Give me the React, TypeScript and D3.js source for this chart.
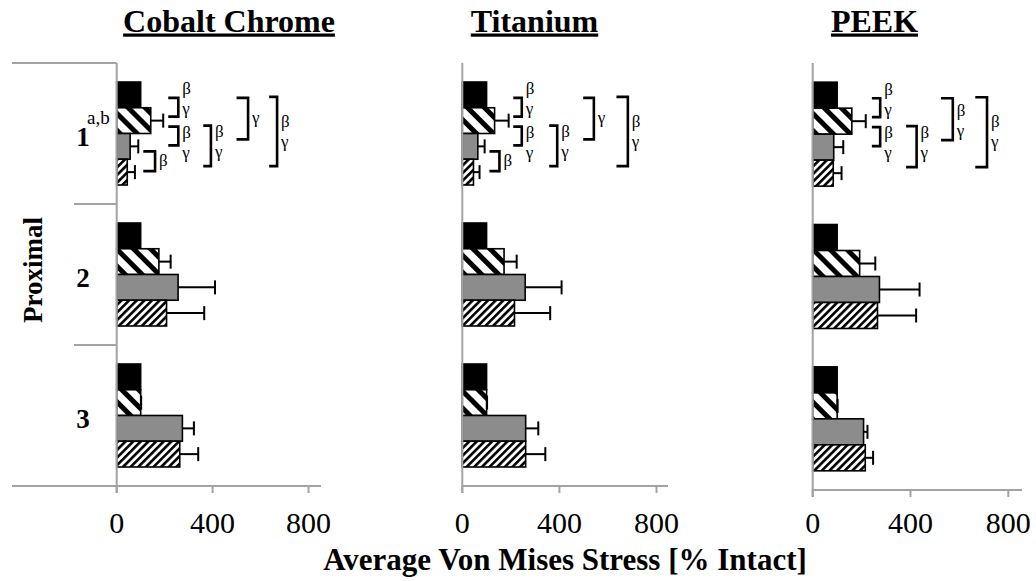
import React from 'react';
import * as d3 from 'd3';

// ---------- data ----------
const materials = ['Cobalt Chrome', 'Titanium', 'PEEK'];
const levels = ['1', '2', '3'];
const seriesNames = ['Intact', 'Construct A', 'Construct B', 'Construct C'];
const xTicks = [0, 400, 800];
const axisTitle = 'Average Von Mises Stress [% Intact]';
const regionLabel = 'Proximal';
const level1Note = 'a,b';

// values per level (rows) per series (columns)
const cocrValues = [
  [100, 142, 56, 44],
  [100, 176, 256, 208],
  [100, 100, 274, 263],
];
const cocrErrors = [
  [0, 52, 34, 32],
  [0, 49, 154, 157],
  [0, 2, 48, 77],
];
const tiValues = [
  [100, 133, 64, 46],
  [100, 172, 259, 215],
  [100, 100, 261, 261],
];
const tiErrors = [
  [0, 58, 28, 25],
  [0, 52, 150, 147],
  [0, 2, 52, 81],
];
const peekValues = [
  [100, 160, 86, 84],
  [100, 192, 273, 265],
  [100, 100, 208, 215],
];
const peekErrors = [
  [0, 57, 39, 34],
  [0, 64, 164, 158],
  [0, 2, 16, 32],
];

// significance brackets at level 1: series pair, x extent (data units), labels
const cocrBrackets = [
  { pair: [0, 1], x: [215, 257], text: ['β', 'γ'] },
  { pair: [1, 2], x: [215, 257], text: ['β', 'γ'] },
  { pair: [2, 3], x: [111, 160], text: ['β'] },
  { pair: [1, 3], x: [361, 393], text: ['β', 'γ'] },
  { pair: [0, 2], x: [500, 548], text: ['γ'] },
  { pair: [0, 3], x: [636, 669], text: ['β', 'γ'] },
];
const tiBrackets = [
  { pair: [0, 1], x: [210, 245], text: ['β', 'γ'] },
  { pair: [1, 2], x: [210, 245], text: ['β', 'γ'] },
  { pair: [2, 3], x: [112, 153], text: ['β'] },
  { pair: [1, 3], x: [358, 391], text: ['β', 'γ'] },
  { pair: [0, 2], x: [498, 542], text: ['γ'] },
  { pair: [0, 3], x: [635, 682], text: ['β', 'γ'] },
];
const peekBrackets = [
  { pair: [0, 1], x: [242, 276], text: ['β', 'γ'] },
  { pair: [1, 2], x: [242, 276], text: ['β', 'γ'] },
  { pair: [1, 3], x: [382, 425], text: ['β', 'γ'] },
  { pair: [0, 2], x: [525, 573], text: ['β', 'γ'] },
  { pair: [0, 3], x: [665, 713], text: ['β', 'γ'] },
];

const panelData = [
  { name: materials[0], values: cocrValues, errors: cocrErrors, brackets: cocrBrackets },
  { name: materials[1], values: tiValues, errors: tiErrors, brackets: tiBrackets },
  { name: materials[2], values: peekValues, errors: peekErrors, brackets: peekBrackets },
];

// ---------- layout ----------
const W = 1036;
const H = 581;
const panelLayout = [
  { x0: 116.7, x800: 308.5, top: 63, bottom: 486, lineEnd: 321, titleX: 229 },
  { x0: 462.3, x800: 656.5, top: 63, bottom: 486, lineEnd: 668, titleX: 534.5 },
  { x0: 812.7, x800: 1008.3, top: 63, bottom: 490, lineEnd: 1022, titleX: 874.5 },
];
const AXIS_GRAY = '#a3a3a3';
const FONT = '"Liberation Serif", "Times New Roman", Times, serif';
const seriesFill = ['#000000', 'url(#hatchWide)', '#8c8c8c', 'url(#hatchFine)'];

// bracket vertical insets (px) relative to bar centers, and label baseline offsets
const bracketInsets: Record<string, [number, number]> = {
  '0-1': [3, -4],
  '1-2': [6, -1],
  '2-3': [5, -1],
  '1-3': [5, -6],
  '0-2': [3, -7],
  '0-3': [2, -6],
};
const labelOffsets: Record<string, number[]> = {
  '0-1': [-13, 7],
  '1-2': [1.5, 21.5],
  '2-3': [4.7],
  '1-3': [-9, 11],
  '0-2': [-3, 17],
  '0-3': [-5, 15],
};
const singleOffsets: Record<string, number> = { '0-2': 4, '2-3': 4.7 };

function Panel({ idx }: { idx: number }) {
  const d = panelData[idx];
  const L = panelLayout[idx];
  const x = d3.scaleLinear().domain([0, 800]).range([L.x0, L.x800]);
  const y = d3.scaleBand<string>().domain(levels).range([L.top, L.bottom]).paddingInner(0).paddingOuter(0);
  const yi = d3
    .scaleBand<number>()
    .domain(d3.range(seriesNames.length))
    .range([0, y.bandwidth()])
    .paddingInner(0)
    .paddingOuter(0.738);
  const bh = yi.bandwidth();
  const cy = (lvl: string, s: number) => (y(lvl) as number) + (yi(s) as number) + bh / 2;

  return (
    <g>
      {/* title */}
      <text
        x={L.titleX}
        y={31.5}
        textAnchor="middle"
        fontFamily={FONT}
        fontWeight="bold"
        fontSize={32}
        textDecoration="underline"
        fill="#000"
      >
        {d.name}
      </text>

      {/* category separators (first panel only) */}
      {idx === 0 && (
        <g stroke={AXIS_GRAY} strokeWidth={2}>
          <line x1={12} x2={L.x0} y1={L.top} y2={L.top} />
          {levels.slice(1).map((lv) => (
            <line key={lv} x1={74} x2={L.x0} y1={y(lv)} y2={y(lv)} />
          ))}
          <line x1={12} x2={L.x0} y1={L.bottom} y2={L.bottom} />
        </g>
      )}

      {/* bars */}
      {levels.map((lv, li) =>
        d.values[li].map((v, s) => (
          <rect
            key={`b${lv}-${s}`}
            x={x(0)}
            y={(y(lv) as number) + (yi(s) as number)}
            width={x(v) - x(0)}
            height={bh}
            fill={seriesFill[s]}
            stroke="#000"
            strokeWidth={1.6}
          />
        ))
      )}

      {/* error bars */}
      {levels.map((lv, li) =>
        d.values[li].map((v, s) => {
          const e = d.errors[li][s];
          if (!e) return null;
          const c = cy(lv, s);
          return (
            <g key={`e${lv}-${s}`} stroke="#000" strokeWidth={2}>
              <line x1={x(v)} x2={x(v + e)} y1={c} y2={c} />
              <line x1={x(v + e)} x2={x(v + e)} y1={c - 7} y2={c + 7} />
            </g>
          );
        })
      )}

      {/* axes */}
      <g stroke={AXIS_GRAY} strokeWidth={2}>
        <line x1={L.x0} x2={L.x0} y1={L.top} y2={L.bottom + 7} />
        <line x1={L.x0} x2={L.lineEnd} y1={L.bottom} y2={L.bottom} />
        {xTicks.map((t) => (
          <line key={t} x1={x(t)} x2={x(t)} y1={L.bottom} y2={L.bottom + 7} />
        ))}
      </g>
      {xTicks.map((t) => (
        <text
          key={`tl${t}`}
          x={x(t)}
          y={533}
          textAnchor="middle"
          fontFamily={FONT}
          fontSize={30}
          fill="#000"
        >
          {t}
        </text>
      ))}

      {/* significance brackets at level 1 */}
      {d.brackets.map((b, bi) => {
        const key = `${b.pair[0]}-${b.pair[1]}`;
        const [dt, db] = bracketInsets[key];
        const y1 = cy(levels[0], b.pair[0]) + dt;
        const y2 = cy(levels[0], b.pair[1]) + db;
        const xa = x(b.x[0]);
        const xb = x(b.x[1]);
        const mid = (y1 + y2) / 2;
        const offs = b.text.length === 1 ? [singleOffsets[key] ?? 4] : labelOffsets[key];
        return (
          <g key={`br${bi}`}>
            <path
              d={`M${xa},${y1}H${xb}V${y2}H${xa}`}
              fill="none"
              stroke="#000"
              strokeWidth={2.6}
            />
            {b.text.map((t, ti) => (
              <text
                key={ti}
                x={xb + 4}
                y={mid + offs[ti]}
                fontFamily={FONT}
                fontSize={17}
                fill="#000"
              >
                {t}
              </text>
            ))}
          </g>
        );
      })}

      {/* level labels (first panel only) */}
      {idx === 0 &&
        levels.map((lv) => (
          <text
            key={`lv${lv}`}
            x={83}
            y={(y(lv) as number) + y.bandwidth() / 2 + 12}
            textAnchor="middle"
            fontFamily={FONT}
            fontWeight="bold"
            fontSize={27}
            fill="#000"
          >
            {lv}
          </text>
        ))}
      {idx === 0 && (
        <text x={87} y={124} fontFamily={FONT} fontSize={19} fill="#000">
          {level1Note}
        </text>
      )}
    </g>
  );
}

export default function App() {
  return (
    <svg
      width={W}
      height={H}
      viewBox={`0 0 ${W} ${H}`}
      style={{ position: 'absolute', left: 0, top: 0, display: 'block', background: '#fff' }}
    >
      <defs>
        <pattern
          id="hatchWide"
          patternUnits="userSpaceOnUse"
          width={12}
          height={12}
          patternTransform="rotate(-45)"
        >
          <rect width={12} height={12} fill="#fff" />
          <rect width={5} height={12} fill="#000" />
        </pattern>
        <pattern
          id="hatchFine"
          patternUnits="userSpaceOnUse"
          width={5.4}
          height={5.4}
          patternTransform="rotate(45)"
        >
          <rect width={5.4} height={5.4} fill="#fff" />
          <rect width={2.6} height={5.4} fill="#000" />
        </pattern>
      </defs>
      <rect width={W} height={H} fill="#fff" />
      {panelData.map((_, i) => (
        <Panel key={i} idx={i} />
      ))}
      <text
        transform="translate(33,270) rotate(-90)"
        textAnchor="middle"
        dominantBaseline="central"
        fontFamily={FONT}
        fontWeight="bold"
        fontSize={27}
        fill="#000"
      >
        {regionLabel}
      </text>
      <text
        x={565}
        y={570}
        textAnchor="middle"
        fontFamily={FONT}
        fontWeight="bold"
        fontSize={31}
        fill="#000"
      >
        {axisTitle}
      </text>
    </svg>
  );
}
